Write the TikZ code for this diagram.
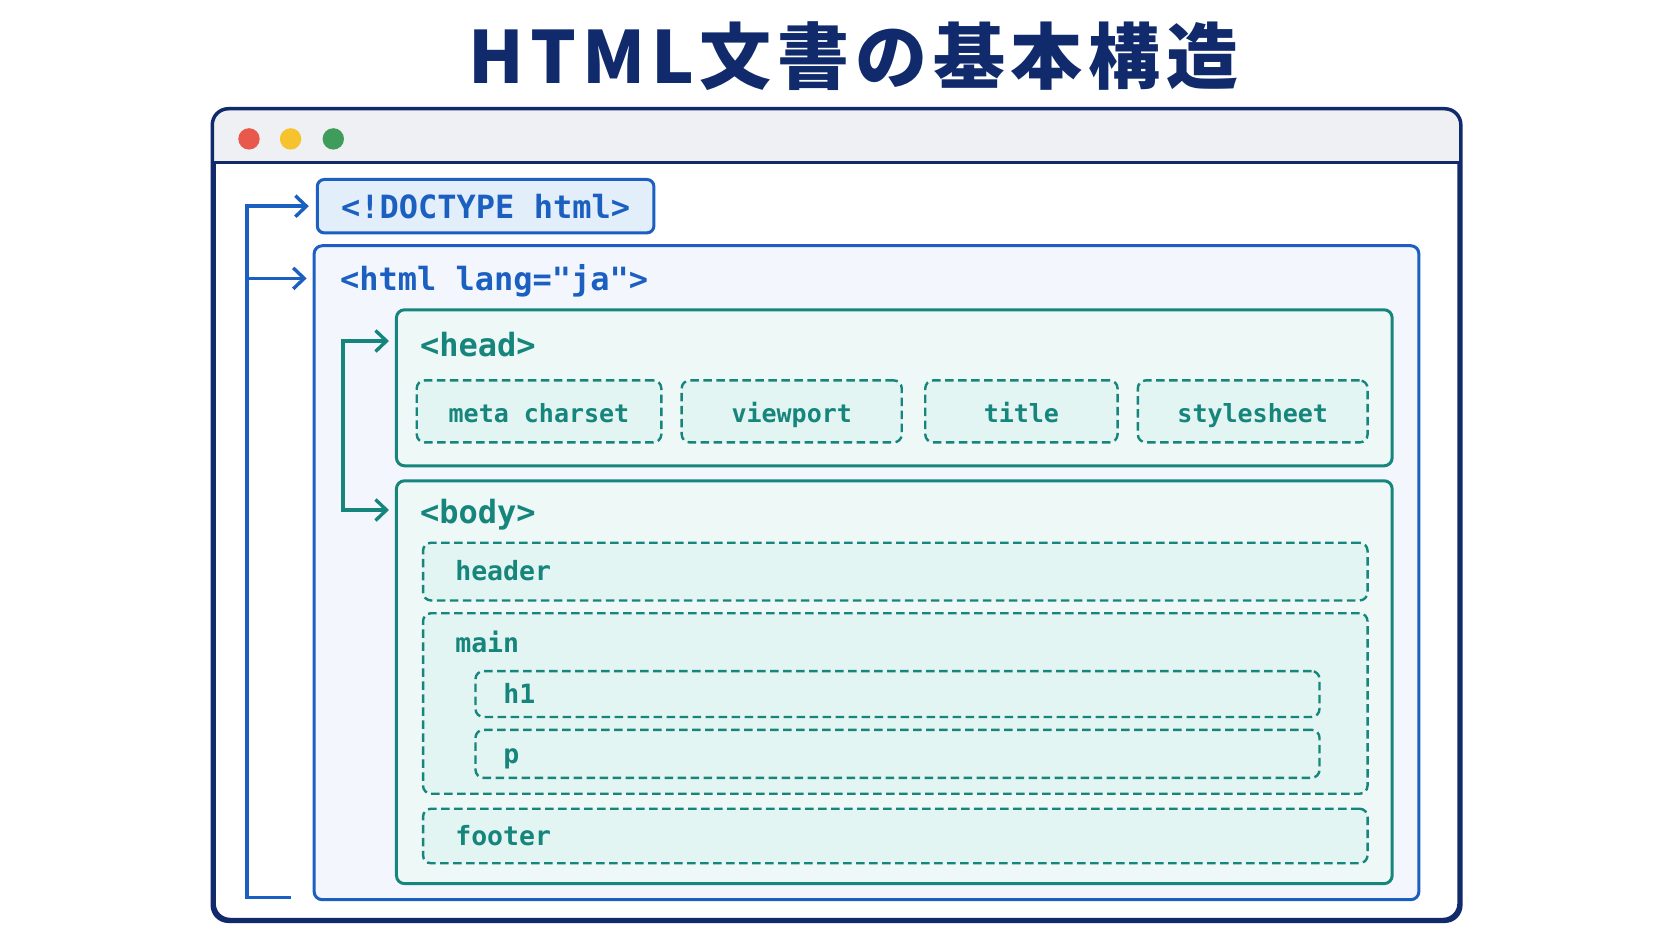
\documentclass[tikz,border=0pt]{standalone}
\usepackage{fontspec}
\setmonofont{DejaVu Sans Mono}
\newfontfamily\cjkfont{Noto Sans CJK JP}[LetterSpace=8]
\usetikzlibrary{arrows.meta}

\definecolor{navy}{HTML}{102A6C}
\definecolor{docblue}{HTML}{1B5FC1}
\definecolor{docfill}{HTML}{E3EEFB}
\definecolor{htmlfill}{HTML}{F3F7FD}
\definecolor{tealc}{HTML}{16857C}
\definecolor{sectfill}{HTML}{EEF8F7}
\definecolor{elfill}{HTML}{E3F5F2}
\definecolor{barfill}{HTML}{EEF0F4}
\definecolor{dotred}{HTML}{E8594B}
\definecolor{dotyellow}{HTML}{F6C22E}
\definecolor{dotgreen}{HTML}{3F9D5C}

\newcommand\titlefont{\cjkfont\bfseries\fontsize{72}{72}\selectfont}
\newcommand\tagfont{\ttfamily\bfseries\fontsize{32}{32}\selectfont}
\newcommand\elfont{\ttfamily\bfseries\fontsize{25}{25}\selectfont}
\newcommand\bodyelfont{\ttfamily\bfseries\fontsize{26.5}{26.5}\selectfont}

\tikzset{
  winframe/.style={draw=navy, line width=3.5pt, rounded corners=16pt, fill=white, inner sep=0pt},
  dot/.style={circle, minimum size=21.4pt, inner sep=0pt},
  tagbox/.style={draw=docblue, fill=docfill, line width=3pt, rounded corners=7pt, inner sep=0pt},
  htmlframe/.style={draw=docblue, fill=htmlfill, line width=3pt, rounded corners=8pt, inner sep=0pt},
  sectbox/.style={draw=tealc, fill=sectfill, line width=3pt, rounded corners=8pt, inner sep=0pt},
  elbox/.style={draw=tealc, fill=elfill, line width=2.4pt, dash pattern=on 8.5pt off 4.5pt, rounded corners=8pt, inner sep=0pt, text=tealc, font=\elfont, text height=23pt, text depth=0pt},
  tagtext/.style={font=\tagfont, inner sep=0pt, anchor=west, text height=24pt, text depth=0pt},
  eltext/.style={font=\bodyelfont, text=tealc, inner sep=0pt, anchor=west, text height=18.4pt, text depth=0pt},
  bline/.style={draw=docblue, line width=3.4pt},
  tline/.style={draw=tealc, line width=3.4pt},
}

\begin{document}
\begin{tikzpicture}[x=1pt, y=-1pt, >={Straight Barb[length=11pt,width=21pt]}]
  \useasboundingbox (0,0) rectangle (1672,941);
  \fill[white] (0,0) rectangle (1672,941);

  \node[font=\titlefont, text=navy, inner sep=0pt] (ttl) at (853.6,55.8) {HTML文書の基本構造};

  % browser window
  \node[winframe, minimum width=1245pt, minimum height=809pt] (win) at (836.55,515) {};
  \coordinate (sepl) at (212.6,162.4);
  \coordinate (sepr) at (1460.5,162.4);
  \begin{scope}
    \clip[rounded corners=16pt] (win.north west) rectangle (win.south east);
    \fill[barfill] (win.north west) rectangle (sepr);
  \end{scope}
  \draw[navy, line width=3pt] (sepl) -- (sepr);
  \draw[navy, line width=3.5pt, rounded corners=16pt] (win.north west) rectangle (win.south east);
  \node[dot, fill=dotred] (red) at (249,138.9) {};
  \node[dot, fill=dotyellow] (yellow) at (290.6,138.9) {};
  \node[dot, fill=dotgreen] (green) at (333.3,138.9) {};

  % doctype and html
  \node[tagbox, minimum width=336.6pt, minimum height=53.4pt, font=\tagfont, text=docblue, text height=24pt, text depth=0pt] (doctype) at (485.6,206.2) {<!DOCTYPE html>};
  \node[htmlframe, minimum width=1104.7pt, minimum height=653.9pt] (htmlbox) at (866.5,572.7) {};
  \node[tagtext, text=docblue] (htmltag) at (339.8,278.4) {<html lang="ja">};

  % head
  \node[sectbox, minimum width=995.7pt, minimum height=156pt] (head) at (894.3,387.8) {};
  \node[tagtext, text=tealc] (headtag) at (419.9,344) {<head>};
  \node[elbox, minimum width=244.6pt, minimum height=62pt] (meta) at (539,411.4) {meta charset};
  \node[elbox, minimum width=220.1pt, minimum height=62pt] (viewport) at (791.7,411.4) {viewport};
  \node[elbox, minimum width=192.3pt, minimum height=62pt] (title) at (1021.4,411.4) {title};
  \node[elbox, minimum width=229.8pt, minimum height=62pt] (stylesheet) at (1252.7,411.4) {stylesheet};

  % body
  \node[sectbox, minimum width=995.7pt, minimum height=402.8pt] (body) at (894.3,682.2) {};
  \node[tagtext, text=tealc] (bodytag) at (419.9,511.3) {<body>};
  \node[elbox, minimum width=944.5pt, minimum height=57.7pt] (header) at (895.3,571.6) {};
  \node[eltext] (headertxt) at (455.1,571.6) {header};
  \node[elbox, minimum width=944.5pt, minimum height=180.5pt] (main) at (895.3,703.5) {};
  \node[eltext] (maintxt) at (455.1,643.2) {main};
  \node[elbox, minimum width=844pt, minimum height=45.9pt] (h1) at (897.5,694) {};
  \node[eltext] (h1txt) at (503.2,694.5) {h1};
  \node[elbox, minimum width=844pt, minimum height=48pt] (p) at (897.5,753.8) {};
  \node[eltext] (ptxt) at (503.2,753.8) {p};
  \node[elbox, minimum width=944.5pt, minimum height=54.5pt] (footer) at (895.3,836) {};
  \node[eltext] (footertxt) at (455.1,836.6) {footer};

  % connectors
  \coordinate (btop) at (246.8,206.2);
  \coordinate (bbot) at (246.8,897.5);
  \coordinate (bend) at (290.6,897.5);
  \draw[bline, <-, shorten <=7pt] (doctype) -- (btop) -- (bbot) -- (bend);
  \draw[bline, ->, shorten >=6pt] (btop |- htmltag) -- (htmlbox.west |- htmltag);
  \coordinate (ttop) at (343,341);
  \coordinate (tbot) at (343,510);
  \draw[tline, <->, shorten <=6pt, shorten >=6pt] (head.west |- ttop) -- (ttop) -- (tbot) -- (body.west |- tbot);
\end{tikzpicture}
\end{document}
